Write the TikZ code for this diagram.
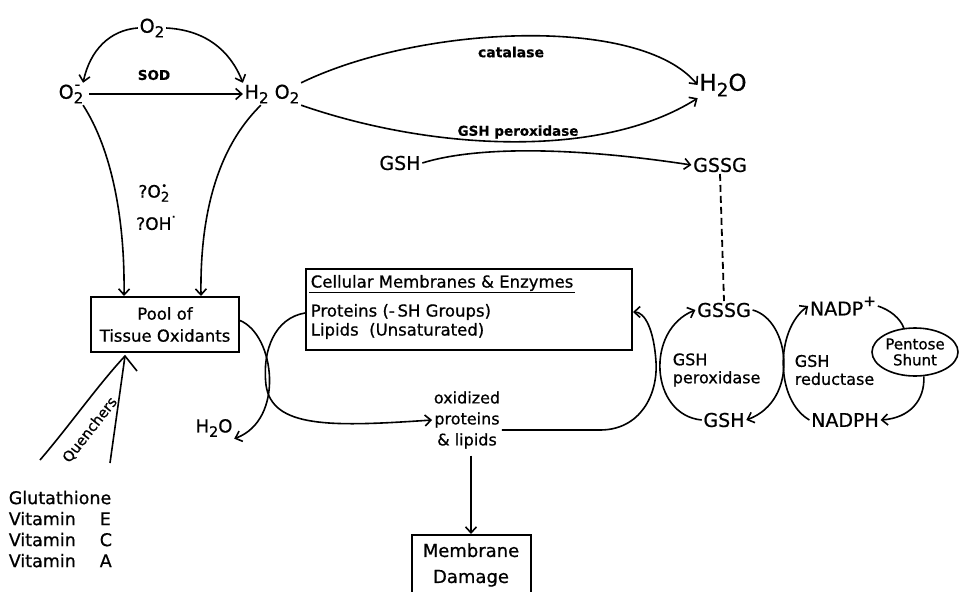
\documentclass[tikz,border=0pt]{standalone}
\usepackage{fontspec}
\setmainfont{DejaVu Sans}[FakeBold=0.7]
\usetikzlibrary{arrows.meta,shapes.geometric}
\newcommand{\lowr}[1]{\raisebox{-0.45ex}{\scalebox{0.8}{#1}}}
\newcommand{\upr}[1]{\raisebox{0.9ex}{\scalebox{0.8}{#1}}}
\newcommand{\fs}[1]{\fontsize{#1}{#1}\selectfont}

\begin{document}
\begin{tikzpicture}[x=1pt,y=-1pt,
	line width=1.6pt,
	>={Straight Barb[length=6pt,width=11pt]},
	lbl/.style={inner sep=1pt},
	box/.style={draw,line width=2pt,inner sep=0pt}]
	%%%%% START %%%%%
	\useasboundingbox (0,0) rectangle (960,591);

	% oxygen species
	\node[lbl, font=\fs{19}] (otwo) at (152,28) {O\lowr{2}};
	\node[lbl, font=\fs{19}] (ominus) at (70,94) {O\rlap{\lowr{2}}\upr{\makebox[0.5em]{-}}};
	\node[lbl, font=\fs{19}] (hoo) at (272,94) {H\lowr{2} O\lowr{2}};
	\node[lbl, font=\bfseries\fs{13.5}] (sod) at (154,75) {SOD};
	\node[lbl, font=\fs{23}] (water) at (723,85) {H\lowr{2}O};
	\node[lbl, font=\bfseries\fs{14}] (catal) at (511,52) {catalase};
	\node[lbl, font=\bfseries\fs{13.5}] (perox) at (518,132) {GSH peroxidase};
	\node[lbl, font=\fs{19}] (gsha) at (400,163) {GSH};
	\node[lbl, font=\fs{19}] (gssga) at (720,165) {GSSG};
	\node[lbl, font=\fs{17}] (qotwo) at (153,193) {?O\rlap{\lowr{2}}\upr{\makebox[0.5em]{\scalebox{0.7}{\textbullet}}}};
	\node[lbl, font=\fs{17}] (qoh) at (156,223) {?OH\upr{\textperiodcentered}};

	% boxes
	\node[box, minimum width=148, minimum height=55, align=center, font=\fontsize{16.5}{22}\selectfont] (pool) at (165,324.5) {Pool of\\Tissue Oxidants};
	\node[box, minimum width=326, minimum height=81] (cell) at (469,309.5) {};
	\node[lbl, anchor=west, font=\fs{16.5}] (celltitle) at (309,283) {Cellular Membranes \& Enzymes};
	\draw[line width=1.2pt] (celltitle.south west) -- (celltitle.south east);
	\node[lbl, anchor=west, font=\fs{16.5}] (prot) at (309,312) {Proteins (-\,SH Groups)};
	\node[lbl, anchor=west, font=\fs{16.5}] (lipid) at (309,331) {Lipids\ \ (Unsaturated)};
	\node[lbl, font=\fs{18}] (wat) at (214,428) {H\lowr{2}O};
	\node[lbl, align=center, font=\fontsize{16}{21}\selectfont] (oxid) at (467,420) {oxidized\\proteins\\\& lipids};
	\node[box, anchor=north, minimum width=119, minimum height=60, align=center, font=\fontsize{18}{26}\selectfont] (damage) at (471,534) {Membrane\\Damage};

	% glutathione cycle
	\node[lbl, font=\fs{19}] (gssgb) at (724,310) {GSSG};
	\node[lbl, font=\fs{19}] (gshb) at (724,420) {GSH};
	\node[lbl, font=\fs{19}] (nadp) at (843,306) {NADP\upr{+}};
	\node[lbl, font=\fs{19}] (nadph) at (845,420) {NADPH};
	\node[draw, ellipse, inner sep=0pt, minimum width=86, minimum height=48, align=center, font=\fontsize{15}{16}\selectfont] (shunt) at (915,352) {Pentose\\Shunt};
	\node[lbl, anchor=west, align=left, font=\fontsize{16}{18}\selectfont] (perox2) at (671,370) {GSH\\peroxidase};
	\node[lbl, anchor=west, align=left, font=\fontsize{16}{18}\selectfont] (reduct) at (793,370) {GSH\\reductase};

	% quenchers
	\node[lbl, rotate=52, font=\fs{14.5}] (quench) at (90,430) {Quenchers};
	\node[lbl, anchor=north west, align=left, font=\fontsize{17.5}{21}\selectfont] (vitam) at (7,489) {Glutathione\\\makebox[91pt][l]{Vitamin}E\\\makebox[91pt][l]{Vitamin}C\\\makebox[91pt][l]{Vitamin}A};

	% arrows, top
	\draw[->] (otwo.west) .. controls (110,30) and (90,50) .. (ominus.north east);
	\draw[->] (otwo.east) .. controls (205,30) and (230,50) .. (hoo.north west);
	\draw[->, shorten <=6pt] (ominus.east) -- (ominus.east -| hoo.west);
	\draw[->] (hoo.north east) .. controls (420,25) and (640,15) .. (water.west);
	\draw[->] (hoo.south east) .. controls (430,150) and (600,160) .. (water.south west);
	\draw[->] (gsha.east) .. controls (470,148) and (560,145) .. (gssga.west);
	\draw[dash pattern=on 7pt off 4pt, line width=1.8pt] (gssga.south) -- (gssgb.north);

	% arrows into the pool
	\draw[->] (ominus.south east) .. controls (112,150) and (125,220) .. ([xshift=34pt]pool.north west);
	\draw[->] ([xshift=18pt]hoo.south west) .. controls (215,150) and (200,220) .. ([xshift=-39pt]pool.north east);

	% crossing arcs
	\draw[->] ([yshift=4pt]pool.east) .. controls (275,335) and (285,420) .. (wat.south east);
	\draw[->] ([yshift=-3.5pt]cell.west) .. controls (275,318) and (262,350) .. (266,385) .. controls (272,428) and (330,427) .. (oxid.west);
	\draw[->] ([yshift=-10pt]oxid.east) -- (600,430) .. controls (640,430) and (658,395) .. (656,362) .. controls (654,330) and (645,312) .. ([yshift=-2.5pt]cell.east);
	\draw[->, shorten <=5pt] (damage.north |- oxid.south) -- (damage.north);

	% cycles
	\draw[->] (gshb.west) .. controls (650,415) and (645,330) .. (gssgb.west);
	\draw[->] (gssgb.east) .. controls (790,320) and (800,400) .. (gshb.east);
	\draw[->] (nadph.west) .. controls (775,400) and (775,330) .. (nadp.west);
	\draw (nadp.east) .. controls (890,310) and (900,318) .. (shunt.115);
	\draw[->] (shunt.290) .. controls (925,400) and (910,418) .. (nadph.east);

	% quencher lines
	\coordinate (qtop) at ([xshift=-40pt,yshift=-3pt]pool.south);
	\coordinate (qleft) at (40,460);
	\coordinate (qright) at (110,463);
	\draw (qleft) .. controls (70,425) and (98,385) .. (qtop) -- ++(12,15);
	\draw (qright) -- (qtop);

	%%%%% END %%%%%
\end{tikzpicture}
\end{document}
